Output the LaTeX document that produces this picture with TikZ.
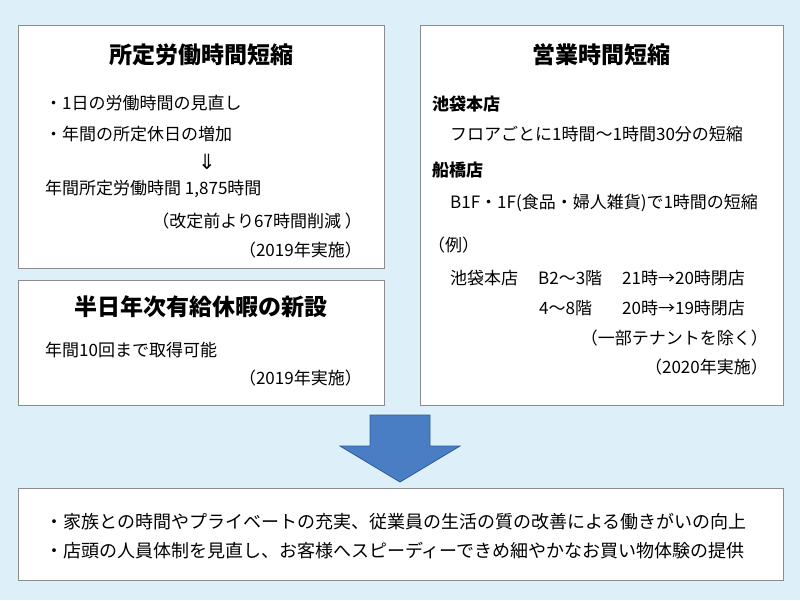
\documentclass[tikz,border=0pt]{standalone}
\usepackage{fontspec}
\setmainfont{Noto Sans CJK JP}
\newfontfamily\symfont{DejaVu Sans}
\usetikzlibrary{positioning}
\definecolor{bgblue}{HTML}{DDF0FA}
\definecolor{framegray}{HTML}{8C8C8C}
\definecolor{arrowblue}{HTML}{4A7EC4}
\definecolor{arrowedge}{HTML}{2F5B94}
\tikzset{
  panel/.style={draw=framegray, fill=white, line width=0.8pt},
  title/.style={font=\fontsize{23}{26}\selectfont\bfseries, inner sep=0pt},
  body/.style={font=\fontsize{17}{20}\selectfont, anchor=west, inner sep=0pt},
  bodyr/.style={font=\fontsize{17}{20}\selectfont, anchor=east, inner sep=0pt},
  sub/.style={font=\fontsize{17}{20}\selectfont\bfseries, anchor=west, inner sep=0pt},
  result/.style={font=\fontsize{18}{21}\selectfont, anchor=west, inner sep=0pt}
}
\begin{document}
\begin{tikzpicture}[x=1pt,y=-1pt]
  % background and frames
  \fill[bgblue] (0,0) rectangle (800,600);
  \useasboundingbox (0,0) rectangle (800,600);
  \draw[panel] (18,25) rectangle (384,268);
  \draw[panel] (18,280) rectangle (384,405);
  \draw[panel] (420,25) rectangle (783,405);
  \draw[panel] (18,488) rectangle (783,580);

  % down arrow
  \draw[fill=arrowblue, draw=arrowedge, line width=0.8pt]
    (370,415) -- (430,415) -- (430,446) -- (460,446) -- (400,482)
    -- (340,446) -- (370,446) -- cycle;

  % left top panel
  \node[title] (workTitle) at (201,55) {所定労働時間短縮};
  \node[body] (workA) at (45,103) {・1日の労働時間の見直し};
  \node[body] (workB) at (45,134) {・年間の所定休日の増加};
  \node[inner sep=0pt, font=\symfont\fontsize{21}{24}\selectfont] (workArrow) at (207,162) {⇓};
  \node[body] (workHours) at (45,189) {年間所定労働時間 1,875時間};
  \node[bodyr] (workCut) at (362,221) {（改定前より67時間削減 ）};
  \node[bodyr] (workYear) at (362,250) {（2019年実施）};

  % left bottom panel
  \node[title] (leaveTitle) at (201,307) {半日年次有給休暇の新設};
  \node[body] (leaveA) at (45,350) {年間10回まで取得可能};
  \node[bodyr] (leaveYear) at (362,378) {（2019年実施）};

  % right panel
  \node[title] (shopTitle) at (601,55) {営業時間短縮};
  \node[sub] (ikeTitle) at (432,104) {池袋本店};
  \node[body] (ikeText) at (450,134) {フロアごとに1時間～1時間30分の短縮};
  \node[sub] (funaTitle) at (432,170) {船橋店};
  \node[body] (funaText) at (450,203) {B1F・1F(食品・婦人雑貨)で1時間の短縮};
  \node[body] (exLabel) at (428,245) {（例）};
  \node[body] (exShop) at (450,278) {池袋本店};
  \node[body] (exFloorA) at (538,278) {B2～3階};
  \node[body] (exTimeA) at (622,278) {21時→20時閉店};
  \node[body] (exFloorB) at (539,308) {4～8階};
  \node[body] (exTimeB) at (622,308) {20時→19時閉店};
  \node[bodyr] (exNote) at (768,338) {（一部テナントを除く）};
  \node[bodyr] (shopYear) at (768,367) {（2020年実施）};

  % result panel
  \node[result] (resultA) at (45,522) {・家族との時間やプライベートの充実、従業員の生活の質の改善による働きがいの向上};
  \node[result] (resultB) at (45,551) {・店頭の人員体制を見直し、お客様へスピーディーできめ細やかなお買い物体験の提供};
\end{tikzpicture}
\end{document}
